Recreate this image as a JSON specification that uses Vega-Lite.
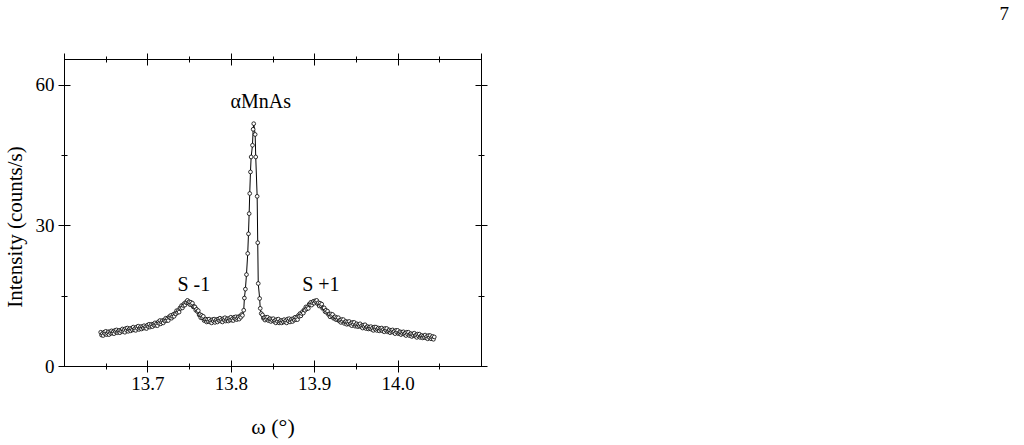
{
  "$schema": "https://vega.github.io/schema/vega-lite/v6.json",
  "width": 417,
  "height": 307,
  "autosize": "none",
  "padding": {"left": 64, "top": 59, "right": 543, "bottom": 79},
  "background": "white",
  "title": {"text": "7", "anchor": "end", "frame": "group", "dx": 528, "offset": 14, "baseline": "alphabetic", "font": "Liberation Serif", "fontSize": 19, "fontWeight": "normal", "color": "black"},
  "config": {
    "view": {"stroke": "black", "strokeWidth": 1},
    "axis": {"grid": false, "domain": false, "tickColor": "black", "tickWidth": 1, "labelColor": "black", "labelFont": "Liberation Serif", "labelFontSize": 19, "titleFont": "Liberation Serif", "titleFontWeight": "normal", "titleColor": "black"}
  },
  "datasets": {
    "scan": [
      {"w": 13.644, "I": 7.2}, {"w": 13.645, "I": 6.6}, {"w": 13.646, "I": 6.9}, {"w": 13.647, "I": 6.5}, {"w": 13.648, "I": 7.2},
      {"w": 13.649, "I": 6.9}, {"w": 13.650, "I": 7.4}, {"w": 13.651, "I": 6.7}, {"w": 13.652, "I": 7.0}, {"w": 13.653, "I": 7.3},
      {"w": 13.654, "I": 6.7}, {"w": 13.655, "I": 7.3}, {"w": 13.656, "I": 7.0}, {"w": 13.657, "I": 7.5}, {"w": 13.658, "I": 7.0},
      {"w": 13.659, "I": 7.3}, {"w": 13.660, "I": 6.9}, {"w": 13.661, "I": 7.6}, {"w": 13.662, "I": 7.3}, {"w": 13.663, "I": 7.7},
      {"w": 13.664, "I": 7.1}, {"w": 13.665, "I": 7.4}, {"w": 13.666, "I": 7.6}, {"w": 13.667, "I": 7.1}, {"w": 13.668, "I": 7.6},
      {"w": 13.669, "I": 7.4}, {"w": 13.670, "I": 7.9}, {"w": 13.671, "I": 7.4}, {"w": 13.672, "I": 7.7}, {"w": 13.673, "I": 7.2},
      {"w": 13.674, "I": 8.0}, {"w": 13.675, "I": 7.6}, {"w": 13.676, "I": 8.1}, {"w": 13.677, "I": 7.4}, {"w": 13.678, "I": 7.8},
      {"w": 13.679, "I": 8.0}, {"w": 13.680, "I": 7.5}, {"w": 13.681, "I": 8.0}, {"w": 13.682, "I": 7.7}, {"w": 13.683, "I": 8.3},
      {"w": 13.684, "I": 7.7}, {"w": 13.685, "I": 8.0}, {"w": 13.686, "I": 7.6}, {"w": 13.687, "I": 8.3}, {"w": 13.688, "I": 8.0},
      {"w": 13.689, "I": 8.5}, {"w": 13.690, "I": 7.8}, {"w": 13.691, "I": 8.1}, {"w": 13.692, "I": 8.4}, {"w": 13.693, "I": 7.9},
      {"w": 13.694, "I": 8.4}, {"w": 13.695, "I": 8.1}, {"w": 13.696, "I": 8.6}, {"w": 13.697, "I": 8.1}, {"w": 13.698, "I": 8.4},
      {"w": 13.699, "I": 8.0}, {"w": 13.700, "I": 8.7}, {"w": 13.701, "I": 8.4}, {"w": 13.702, "I": 8.9}, {"w": 13.703, "I": 8.3},
      {"w": 13.704, "I": 8.6}, {"w": 13.705, "I": 8.9}, {"w": 13.706, "I": 8.4}, {"w": 13.707, "I": 8.9}, {"w": 13.708, "I": 8.7},
      {"w": 13.709, "I": 9.2}, {"w": 13.710, "I": 8.7}, {"w": 13.711, "I": 9.0}, {"w": 13.712, "I": 8.6}, {"w": 13.713, "I": 9.4},
      {"w": 13.714, "I": 9.1}, {"w": 13.715, "I": 9.7}, {"w": 13.716, "I": 9.0}, {"w": 13.717, "I": 9.4}, {"w": 13.718, "I": 9.7},
      {"w": 13.719, "I": 9.2}, {"w": 13.720, "I": 9.8}, {"w": 13.721, "I": 9.6}, {"w": 13.722, "I": 10.2}, {"w": 13.723, "I": 9.7},
      {"w": 13.724, "I": 10.1}, {"w": 13.725, "I": 9.7}, {"w": 13.726, "I": 10.5}, {"w": 13.727, "I": 10.3}, {"w": 13.728, "I": 10.8},
      {"w": 13.729, "I": 10.2}, {"w": 13.730, "I": 10.6}, {"w": 13.731, "I": 11.0}, {"w": 13.732, "I": 10.6}, {"w": 13.733, "I": 11.2},
      {"w": 13.734, "I": 11.1}, {"w": 13.735, "I": 11.8}, {"w": 13.736, "I": 11.4}, {"w": 13.737, "I": 11.8}, {"w": 13.738, "I": 11.5},
      {"w": 13.739, "I": 12.4}, {"w": 13.740, "I": 12.3}, {"w": 13.741, "I": 12.9}, {"w": 13.742, "I": 12.4}, {"w": 13.743, "I": 12.9},
      {"w": 13.744, "I": 13.3}, {"w": 13.745, "I": 13.0}, {"w": 13.746, "I": 13.6}, {"w": 13.747, "I": 13.5}, {"w": 13.748, "I": 14.0},
      {"w": 13.749, "I": 13.5}, {"w": 13.750, "I": 13.7}, {"w": 13.751, "I": 13.1}, {"w": 13.752, "I": 13.6}, {"w": 13.753, "I": 13.1},
      {"w": 13.754, "I": 13.4}, {"w": 13.755, "I": 12.6}, {"w": 13.756, "I": 12.7}, {"w": 13.757, "I": 12.6}, {"w": 13.758, "I": 11.9},
      {"w": 13.759, "I": 12.1}, {"w": 13.760, "I": 11.6}, {"w": 13.761, "I": 11.8}, {"w": 13.762, "I": 10.9}, {"w": 13.763, "I": 11.0},
      {"w": 13.764, "I": 10.3}, {"w": 13.765, "I": 10.8}, {"w": 13.766, "I": 10.3}, {"w": 13.767, "I": 10.6}, {"w": 13.768, "I": 9.7},
      {"w": 13.769, "I": 9.9}, {"w": 13.770, "I": 10.0}, {"w": 13.771, "I": 9.4}, {"w": 13.772, "I": 9.9}, {"w": 13.773, "I": 9.5},
      {"w": 13.774, "I": 10.0}, {"w": 13.775, "I": 9.4}, {"w": 13.776, "I": 9.7}, {"w": 13.777, "I": 9.2}, {"w": 13.778, "I": 9.9},
      {"w": 13.779, "I": 9.6}, {"w": 13.780, "I": 10.0}, {"w": 13.781, "I": 9.3}, {"w": 13.782, "I": 9.7}, {"w": 13.783, "I": 9.9},
      {"w": 13.784, "I": 9.4}, {"w": 13.785, "I": 10.0}, {"w": 13.786, "I": 9.7}, {"w": 13.787, "I": 10.2}, {"w": 13.788, "I": 9.6},
      {"w": 13.789, "I": 9.9}, {"w": 13.790, "I": 9.4}, {"w": 13.791, "I": 10.1}, {"w": 13.792, "I": 9.8}, {"w": 13.793, "I": 10.3},
      {"w": 13.794, "I": 9.6}, {"w": 13.795, "I": 9.9}, {"w": 13.796, "I": 10.1}, {"w": 13.797, "I": 9.6}, {"w": 13.798, "I": 10.1},
      {"w": 13.799, "I": 9.8}, {"w": 13.800, "I": 10.4}, {"w": 13.801, "I": 9.8}, {"w": 13.802, "I": 10.1}, {"w": 13.803, "I": 9.7},
      {"w": 13.804, "I": 10.4}, {"w": 13.805, "I": 10.1}, {"w": 13.806, "I": 10.5}, {"w": 13.807, "I": 9.9}, {"w": 13.808, "I": 10.2},
      {"w": 13.809, "I": 10.5}, {"w": 13.810, "I": 10.0}, {"w": 13.811, "I": 10.6}, {"w": 13.812, "I": 10.4}, {"w": 13.813, "I": 11.0},
      {"w": 13.814, "I": 10.8}, {"w": 13.8155, "I": 11.9}, {"w": 13.8163, "I": 14.5}, {"w": 13.8175, "I": 16.4}, {"w": 13.8188, "I": 19.5},
      {"w": 13.8203, "I": 24.0}, {"w": 13.8212, "I": 28.2}, {"w": 13.8220, "I": 32.5}, {"w": 13.8227, "I": 36.8}, {"w": 13.8236, "I": 41.4},
      {"w": 13.8244, "I": 44.6}, {"w": 13.8260, "I": 47.1}, {"w": 13.8268, "I": 50.5}, {"w": 13.8275, "I": 51.7}, {"w": 13.8292, "I": 49.4},
      {"w": 13.8299, "I": 44.6}, {"w": 13.8316, "I": 36.2}, {"w": 13.8323, "I": 26.3}, {"w": 13.8329, "I": 17.6}, {"w": 13.8346, "I": 14.4},
      {"w": 13.8353, "I": 12.3}, {"w": 13.8365, "I": 11.2},
      {"w": 13.838, "I": 10.9}, {"w": 13.839, "I": 10.2}, {"w": 13.840, "I": 10.3}, {"w": 13.841, "I": 9.8}, {"w": 13.842, "I": 10.4},
      {"w": 13.843, "I": 10.0}, {"w": 13.844, "I": 10.4}, {"w": 13.845, "I": 9.7}, {"w": 13.846, "I": 10.0}, {"w": 13.847, "I": 10.1},
      {"w": 13.848, "I": 9.5}, {"w": 13.849, "I": 10.0}, {"w": 13.850, "I": 9.7}, {"w": 13.851, "I": 10.1}, {"w": 13.852, "I": 9.5},
      {"w": 13.853, "I": 9.7}, {"w": 13.854, "I": 9.2}, {"w": 13.855, "I": 9.9}, {"w": 13.856, "I": 9.5}, {"w": 13.857, "I": 10.0},
      {"w": 13.858, "I": 9.2}, {"w": 13.859, "I": 9.5}, {"w": 13.860, "I": 9.7}, {"w": 13.861, "I": 9.2}, {"w": 13.862, "I": 9.7},
      {"w": 13.863, "I": 9.4}, {"w": 13.864, "I": 9.9}, {"w": 13.865, "I": 9.4}, {"w": 13.866, "I": 9.7}, {"w": 13.867, "I": 9.2},
      {"w": 13.868, "I": 10.0}, {"w": 13.869, "I": 9.6}, {"w": 13.870, "I": 10.1}, {"w": 13.871, "I": 9.4}, {"w": 13.872, "I": 9.8},
      {"w": 13.873, "I": 10.0}, {"w": 13.874, "I": 9.5}, {"w": 13.875, "I": 10.1}, {"w": 13.876, "I": 9.8}, {"w": 13.877, "I": 10.4},
      {"w": 13.878, "I": 9.9}, {"w": 13.879, "I": 10.3}, {"w": 13.880, "I": 9.9}, {"w": 13.881, "I": 10.8}, {"w": 13.882, "I": 10.6},
      {"w": 13.883, "I": 11.2}, {"w": 13.884, "I": 10.7}, {"w": 13.885, "I": 11.2}, {"w": 13.886, "I": 11.6}, {"w": 13.887, "I": 11.3},
      {"w": 13.888, "I": 12.0}, {"w": 13.889, "I": 11.9}, {"w": 13.890, "I": 12.6}, {"w": 13.891, "I": 12.2}, {"w": 13.892, "I": 12.6},
      {"w": 13.893, "I": 12.3}, {"w": 13.894, "I": 13.2}, {"w": 13.895, "I": 13.1}, {"w": 13.896, "I": 13.6}, {"w": 13.897, "I": 13.0},
      {"w": 13.898, "I": 13.5}, {"w": 13.899, "I": 13.8}, {"w": 13.900, "I": 13.4}, {"w": 13.901, "I": 13.9}, {"w": 13.902, "I": 13.7},
      {"w": 13.903, "I": 14.0}, {"w": 13.904, "I": 13.3}, {"w": 13.905, "I": 13.5}, {"w": 13.906, "I": 12.8}, {"w": 13.907, "I": 13.4},
      {"w": 13.908, "I": 12.9}, {"w": 13.909, "I": 13.2}, {"w": 13.910, "I": 12.3}, {"w": 13.911, "I": 12.4}, {"w": 13.912, "I": 12.4},
      {"w": 13.913, "I": 11.6}, {"w": 13.914, "I": 11.9}, {"w": 13.915, "I": 11.4}, {"w": 13.916, "I": 11.7}, {"w": 13.917, "I": 11.0},
      {"w": 13.918, "I": 11.1}, {"w": 13.919, "I": 10.5}, {"w": 13.920, "I": 11.1}, {"w": 13.921, "I": 10.7}, {"w": 13.922, "I": 11.0},
      {"w": 13.923, "I": 10.2}, {"w": 13.924, "I": 10.4}, {"w": 13.925, "I": 10.5}, {"w": 13.926, "I": 9.9}, {"w": 13.927, "I": 10.3},
      {"w": 13.928, "I": 9.9}, {"w": 13.929, "I": 10.3}, {"w": 13.930, "I": 9.6}, {"w": 13.931, "I": 9.8}, {"w": 13.932, "I": 9.3},
      {"w": 13.933, "I": 9.9}, {"w": 13.934, "I": 9.5}, {"w": 13.935, "I": 9.9}, {"w": 13.936, "I": 9.1}, {"w": 13.937, "I": 9.4},
      {"w": 13.938, "I": 9.5}, {"w": 13.939, "I": 8.9}, {"w": 13.940, "I": 9.4}, {"w": 13.941, "I": 9.0}, {"w": 13.942, "I": 9.5},
      {"w": 13.943, "I": 8.9}, {"w": 13.944, "I": 9.1}, {"w": 13.945, "I": 8.6}, {"w": 13.946, "I": 9.3}, {"w": 13.947, "I": 8.9},
      {"w": 13.948, "I": 9.3}, {"w": 13.949, "I": 8.5}, {"w": 13.950, "I": 8.8}, {"w": 13.951, "I": 9.0}, {"w": 13.952, "I": 8.4},
      {"w": 13.953, "I": 8.8}, {"w": 13.954, "I": 8.5}, {"w": 13.955, "I": 9.0}, {"w": 13.956, "I": 8.4}, {"w": 13.957, "I": 8.6},
      {"w": 13.958, "I": 8.1}, {"w": 13.959, "I": 8.7}, {"w": 13.960, "I": 8.4}, {"w": 13.961, "I": 8.8}, {"w": 13.962, "I": 8.0},
      {"w": 13.963, "I": 8.3}, {"w": 13.964, "I": 8.4}, {"w": 13.965, "I": 7.9}, {"w": 13.966, "I": 8.3}, {"w": 13.967, "I": 8.0},
      {"w": 13.968, "I": 8.4}, {"w": 13.969, "I": 7.8}, {"w": 13.970, "I": 8.1}, {"w": 13.971, "I": 7.6}, {"w": 13.972, "I": 8.3},
      {"w": 13.973, "I": 7.9}, {"w": 13.974, "I": 8.3}, {"w": 13.975, "I": 7.6}, {"w": 13.976, "I": 7.9}, {"w": 13.977, "I": 8.1},
      {"w": 13.978, "I": 7.5}, {"w": 13.979, "I": 8.0}, {"w": 13.980, "I": 7.7}, {"w": 13.981, "I": 8.1}, {"w": 13.982, "I": 7.5},
      {"w": 13.983, "I": 7.8}, {"w": 13.984, "I": 7.3}, {"w": 13.985, "I": 8.0}, {"w": 13.986, "I": 7.6}, {"w": 13.987, "I": 8.0},
      {"w": 13.988, "I": 7.3}, {"w": 13.989, "I": 7.5}, {"w": 13.990, "I": 7.7}, {"w": 13.991, "I": 7.1}, {"w": 13.992, "I": 7.6},
      {"w": 13.993, "I": 7.3}, {"w": 13.994, "I": 7.7}, {"w": 13.995, "I": 7.2}, {"w": 13.996, "I": 7.4}, {"w": 13.997, "I": 6.9},
      {"w": 13.998, "I": 7.6}, {"w": 13.999, "I": 7.2}, {"w": 14.000, "I": 7.6}, {"w": 14.001, "I": 6.9}, {"w": 14.002, "I": 7.1},
      {"w": 14.003, "I": 7.3}, {"w": 14.004, "I": 6.7}, {"w": 14.005, "I": 7.2}, {"w": 14.006, "I": 6.9}, {"w": 14.007, "I": 7.3},
      {"w": 14.008, "I": 6.8}, {"w": 14.009, "I": 7.0}, {"w": 14.010, "I": 6.5}, {"w": 14.011, "I": 7.2}, {"w": 14.012, "I": 6.8},
      {"w": 14.013, "I": 7.2}, {"w": 14.014, "I": 6.5}, {"w": 14.015, "I": 6.8}, {"w": 14.016, "I": 6.9}, {"w": 14.017, "I": 6.3},
      {"w": 14.018, "I": 6.8}, {"w": 14.019, "I": 6.5}, {"w": 14.020, "I": 7.0}, {"w": 14.021, "I": 6.4}, {"w": 14.022, "I": 6.6},
      {"w": 14.023, "I": 6.1}, {"w": 14.024, "I": 6.8}, {"w": 14.025, "I": 6.4}, {"w": 14.026, "I": 6.8}, {"w": 14.027, "I": 6.1},
      {"w": 14.028, "I": 6.4}, {"w": 14.029, "I": 6.5}, {"w": 14.030, "I": 6.0}, {"w": 14.031, "I": 6.4}, {"w": 14.032, "I": 6.1},
      {"w": 14.033, "I": 6.6}, {"w": 14.034, "I": 6.0}, {"w": 14.035, "I": 6.3}, {"w": 14.036, "I": 5.8}, {"w": 14.037, "I": 6.5},
      {"w": 14.038, "I": 6.1}, {"w": 14.039, "I": 6.5}, {"w": 14.040, "I": 5.8}, {"w": 14.041, "I": 6.1}, {"w": 14.042, "I": 6.3},
      {"w": 14.043, "I": 5.7}, {"w": 14.044, "I": 6.2}
    ],
    "peak": [
      {"w": 13.836, "I": 54.95, "label": "αMnAs"}
    ],
    "sat": [
      {"w": 13.7556, "I": 16.1, "label": "S -1"},
      {"w": 13.908, "I": 16.1, "label": "S +1"}
    ]
  },
  "resolve": {"axis": {"x": "independent", "y": "independent"}},
  "layer": [
    {
      "data": {"name": "scan"},
      "mark": {"type": "line", "color": "black", "strokeWidth": 1},
      "encoding": {
        "x": {"field": "w", "type": "quantitative", "scale": {"domain": [13.6, 14.1], "nice": false, "zero": false},
          "axis": {"orient": "bottom", "values": [13.7, 13.8, 13.9, 14.0], "format": ".1f", "offset": -6, "tickSize": 12, "labelPadding": 2.5,
            "title": "ω (°)", "titleFontSize": 22, "titleX": 208.5, "titleY": 73.5, "titleAlign": "center", "titleBaseline": "alphabetic"}},
        "y": {"field": "I", "type": "quantitative", "scale": {"domain": [0, 65.5], "nice": false, "zero": false},
          "axis": {"orient": "left", "values": [0, 30, 60], "format": "d", "offset": -6, "tickSize": 12, "labelPadding": 4,
            "title": "Intensity (counts/s)", "titleFontSize": 21, "titleX": -48.5, "titleY": 167.5, "titleAngle": 270, "titleAlign": "center", "titleBaseline": "alphabetic"}}
      }
    },
    {
      "data": {"name": "scan"},
      "mark": {"type": "point", "shape": "circle", "size": 14, "filled": true, "fill": "white", "stroke": "black", "strokeWidth": 0.8, "opacity": 1},
      "encoding": {
        "x": {"field": "w", "type": "quantitative", "scale": {"domain": [13.6, 14.1], "nice": false, "zero": false},
          "axis": {"orient": "bottom", "values": [13.65, 13.75, 13.85, 13.95, 14.05], "offset": -3, "tickSize": 6, "labels": false, "title": null}},
        "y": {"field": "I", "type": "quantitative", "scale": {"domain": [0, 65.5], "nice": false, "zero": false},
          "axis": {"orient": "left", "values": [15, 45], "offset": -3, "tickSize": 6, "labels": false, "title": null}}
      }
    },
    {
      "data": {"name": "peak"},
      "mark": {"type": "text", "font": "Liberation Serif", "fontSize": 20, "color": "black", "align": "center", "baseline": "alphabetic"},
      "encoding": {
        "x": {"field": "w", "type": "quantitative", "scale": {"domain": [13.6, 14.1], "nice": false, "zero": false},
          "axis": {"orient": "top", "values": [13.6, 13.7, 13.8, 13.9, 14.0, 14.1], "offset": -6, "tickSize": 12, "labels": false, "title": null}},
        "y": {"field": "I", "type": "quantitative", "scale": {"domain": [0, 65.5], "nice": false, "zero": false},
          "axis": {"orient": "right", "values": [0, 30, 60], "offset": -6, "tickSize": 12, "labels": false, "title": null}},
        "text": {"field": "label"}
      }
    },
    {
      "data": {"name": "sat"},
      "mark": {"type": "text", "font": "Liberation Serif", "fontSize": 20, "color": "black", "align": "center", "baseline": "alphabetic"},
      "encoding": {
        "x": {"field": "w", "type": "quantitative", "scale": {"domain": [13.6, 14.1], "nice": false, "zero": false},
          "axis": {"orient": "top", "values": [13.65, 13.75, 13.85, 13.95, 14.05], "offset": -3, "tickSize": 6, "labels": false, "title": null}},
        "y": {"field": "I", "type": "quantitative", "scale": {"domain": [0, 65.5], "nice": false, "zero": false},
          "axis": {"orient": "right", "values": [15, 45], "offset": -3, "tickSize": 6, "labels": false, "title": null}},
        "text": {"field": "label"}
      }
    }
  ]
}
